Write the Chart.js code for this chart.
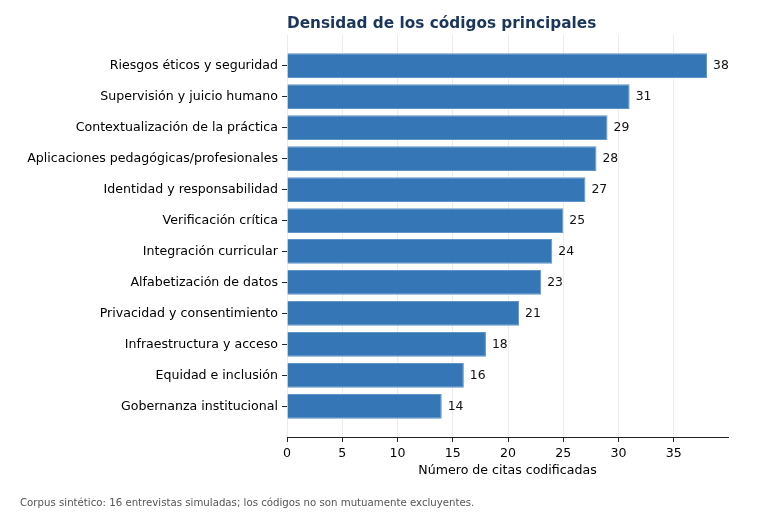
<!DOCTYPE html>
<html>
<head>
<meta charset="utf-8">
<script src="https://cdn.jsdelivr.net/npm/chart.js@4.4.1/dist/chart.umd.min.js"></script>
<style>
  html, body { margin: 0; padding: 0; background: #fff; }
  #wrap { width: 779px; height: 516px; position: relative; }
</style>
</head>
<body>
<div id="wrap"><canvas id="densityChart"></canvas></div>
<script>
// Codes, top to bottom
const codes = [
    'Riesgos éticos y seguridad',
    'Supervisión y juicio humano',
    'Contextualización de la práctica',
    'Aplicaciones pedagógicas/profesionales',
    'Identidad y responsabilidad',
    'Verificación crítica',
    'Integración curricular',
    'Alfabetización de datos',
    'Privacidad y consentimiento',
    'Infraestructura y acceso',
    'Equidad e inclusión',
    'Gobernanza institucional'
];
const citations = [38, 31, 29, 28, 27, 25, 24, 23, 21, 18, 16, 14];
const xTicks = [0, 5, 10, 15, 20, 25, 30, 35];

const chartTitle = 'Densidad de los códigos principales';
const xTitle = 'Número de citas codificadas';
const footnote = 'Corpus sintético: 16 entrevistas simuladas; los códigos no son mutuamente excluyentes.';

const FONT = "'DejaVu Sans', sans-serif";

// draws title, value labels and footnote
const annotate = {
    id: 'annotate',
    afterDatasetsDraw(chart) {
        const ctx = chart.ctx;
        const area = chart.chartArea;
        ctx.save();

        ctx.font = 'bold 15.3px ' + FONT;
        ctx.fillStyle = '#1b365d';
        ctx.textAlign = 'left';
        ctx.textBaseline = 'alphabetic';
        ctx.fillText(chartTitle, area.left, 28);

        ctx.font = '12.4px ' + FONT;
        ctx.fillStyle = '#111';
        ctx.textBaseline = 'middle';
        chart.getDatasetMeta(0).data.forEach((bar, i) => {
            ctx.fillText(String(citations[i]), bar.x + 6, bar.y);
        });

        ctx.font = '10.2px ' + FONT;
        ctx.fillStyle = '#555';
        ctx.textBaseline = 'middle';
        ctx.fillText(footnote, 20, 503);
        ctx.restore();
    }
};

function initDensityChart() {
    const ctx = document.getElementById('densityChart').getContext('2d');

    new Chart(ctx, {
        type: 'bar',
        data: {
            datasets: [{
                data: citations.map((v, i) => ({ x: v, y: i })),
                backgroundColor: 'rgba(46, 115, 180, 0.97)',
                borderColor: '#5f95c9',
                borderWidth: 1,
                categoryPercentage: 0.8,
                barPercentage: 1.0
            }]
        },
        options: {
            indexAxis: 'y',
            responsive: true,
            maintainAspectRatio: false,
            animation: false,
            devicePixelRatio: 1,
            layout: { padding: { top: 35, right: 51, left: 0, bottom: 38 } },
            plugins: {
                legend: { display: false },
                tooltip: { enabled: false }
            },
            scales: {
                x: {
                    type: 'linear',
                    min: 0,
                    max: 39.9,
                    afterFit: scale => { scale.height = 41; },
                    afterBuildTicks: scale => { scale.ticks = xTicks.map(v => ({ value: v })); },
                    border: { display: true, color: '#222', width: 1 },
                    grid: {
                        color: '#ececec',
                        tickColor: '#222',
                        tickLength: 5
                    },
                    ticks: {
                        color: '#000',
                        font: { family: FONT, size: 12.6 },
                        padding: 4
                    },
                    title: {
                        display: true,
                        text: xTitle,
                        color: '#000',
                        font: { family: FONT, size: 12.6 },
                        padding: { top: 2, bottom: 0 }
                    }
                },
                y: {
                    type: 'linear',
                    reverse: true,
                    offset: false,
                    min: -0.99,
                    max: 11.99,
                    afterFit: scale => { scale.width = 287; },
                    afterBuildTicks: scale => { scale.ticks = codes.map((c, i) => ({ value: i })); },
                    border: { display: false },
                    grid: {
                        offset: false,
                        drawOnChartArea: false,
                        tickColor: '#222',
                        tickLength: 5
                    },
                    ticks: {
                        color: '#000',
                        font: { family: FONT, size: 12.6 },
                        padding: 4,
                        callback: value => codes[value]
                    }
                }
            }
        },
        plugins: [annotate]
    });
}

document.addEventListener('DOMContentLoaded', initDensityChart);
</script>
</body>
</html>
